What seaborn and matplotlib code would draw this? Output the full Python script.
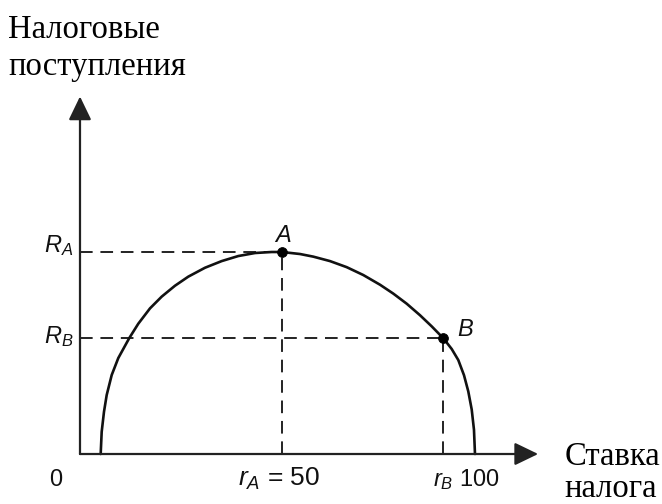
import matplotlib
matplotlib.use("Agg")
import matplotlib.pyplot as plt
import seaborn as sns
import pandas as pd

# Laffer curve (rate %, revenue as % of R_A)
rate = [5.12, 5.37, 5.94, 6.61, 7.85, 9.48, 12.2, 14.43, 17.33, 20.22, 23.51,
        26.81, 30.94, 35.07, 39.18, 43.32, 47.45, 50.0,
        54.46, 57.75, 61.88, 66.01, 70.12, 74.26, 77.55, 80.87, 84.16, 87.05,
        89.93, 92.0, 93.64, 95.05, 96.11, 96.96, 97.52, 97.77]
revenue = [0.0, 11.0, 20.9, 29.2, 39.1, 47.5, 57.4, 64.5, 72.1, 77.9, 83.3,
           87.8, 92.2, 95.5, 98.0, 99.5, 100.0, 100.0,
           99.0, 97.7, 95.5, 92.5, 88.6, 83.8, 79.4, 74.4, 68.7, 63.2,
           57.3, 52.0, 46.5, 39.0, 31.0, 22.0, 12.0, 0.0]
point_names = ["A", "B"]
point_rate = [50.0, 89.9]
point_revenue = [100.0, 57.4]
y_tick_labels = [r"$R_A$", r"$R_B$"]
x_tick_labels = ["0", r"$r_A$ = 50", r"$r_B$ 100"]

sns.set_theme(style="white")
plt.rcParams["mathtext.fontset"] = "custom"
plt.rcParams["mathtext.it"] = "Liberation Sans:italic"
plt.rcParams["mathtext.rm"] = "Liberation Sans"

fig = plt.figure(figsize=(6.62, 5.04), dpi=100)
ax = fig.add_axes([0, 0, 1, 1])

curve = pd.DataFrame({"rate": rate, "revenue": revenue})
pts = pd.DataFrame({"rate": point_rate, "revenue": point_revenue, "name": point_names})

dash = (6.5, 4)
dcol = "#222222"
# guide lines
for r, v in zip(point_rate, point_revenue):
    ax.plot([0, r], [v, v], color=dcol, lw=1.4, dashes=dash)
    ax.plot([r, r], [0, v], color=dcol, lw=1.4, dashes=dash)

sns.lineplot(data=curve, x="rate", y="revenue", ax=ax, color="#111111", lw=1.9,
             sort=False, estimator=None)
sns.scatterplot(data=pts, x="rate", y="revenue", ax=ax, color="black", s=50,
                edgecolor="black", zorder=5)
ax.set_xlim(-19.8, 144.06)
ax.set_ylim(-24.75, 224.75)
ax.axis("off")

# axes with arrows
arrow = dict(arrowstyle="-|>,head_length=1.45,head_width=0.7",
             color="#222222", lw=1.6, shrinkA=0, shrinkB=0, mutation_scale=10)
ax.annotate("", xy=(113.4, 0), xytext=(0, 0), arrowprops=arrow)
ax.annotate("", xy=(0, 177.0), xytext=(0, 0), arrowprops=arrow)

sans = dict(family="Liberation Sans", fontsize=17, color="#111111")
ax.text(-5.9, -15.8, x_tick_labels[0], ha="center", va="baseline", **sans)
ax.text(49.3, -15.8, x_tick_labels[1], ha="center", va="baseline",
        family="Liberation Sans", fontsize=19, color="#111111")
ax.text(95.5, -15.8, x_tick_labels[2], ha="center", va="baseline", **sans)
ax.text(-5.3, 100.0, y_tick_labels[0], ha="center", va="baseline", **sans)
ax.text(-5.3, 55.0, y_tick_labels[1], ha="center", va="baseline", **sans)
ax.text(50.2, 105.0, r"$A$", ha="center", va="baseline", **sans)
ax.text(95.3, 58.4, r"$B$", ha="center", va="baseline", **sans)

serif = dict(family="Liberation Serif", fontsize=23.5, color="black")
ax.text(-17.8, 205.9, "Налоговые", ha="left", va="baseline", **serif)
ax.text(-17.8, 187.6, "поступления", ha="left", va="baseline", **serif)
ax.text(120.0, -5.4, "Ставка", ha="left", va="baseline", **serif)
ax.text(120.0, -21.4, "налога", ha="left", va="baseline", **serif)

fig.savefig("out.png", dpi=100)
